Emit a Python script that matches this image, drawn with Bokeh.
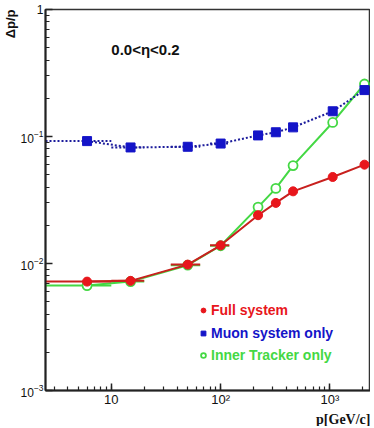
import math
from bokeh.plotting import figure
from bokeh.models import Range1d, Label, Legend, LegendItem, LogTicker, Title
from bokeh.embed import file_html
from bokeh.resources import INLINE

# momentum points (GeV/c) and horizontal bin extents
p_vals = [6, 15, 50, 100, 220, 320, 460, 1060, 2070]
p_lo = [2.5, 10, 35, 80, 200, 320, 460, 1060, 2070]
p_hi = [10, 20, 65, 120, 240, 320, 460, 1060, 2070]

full_system = [0.0072, 0.0073, 0.0098, 0.0139, 0.024, 0.030, 0.037, 0.048, 0.060]
muon_only = [0.092, 0.082, 0.083, 0.088, 0.102, 0.108, 0.118, 0.158, 0.232]
inner_only = [0.0067, 0.0072, 0.0097, 0.0138, 0.0278, 0.039, 0.059, 0.129, 0.259]

x_tick_labels = {10: "10", 100: "10²", 1000: "10³"}
y_top_label = {1: "1"}

RED = "#e8161c"
RED_LINE = "#c8201e"
BLUE = "#1414c8"
BLUE_LINE = "#1c1c9c"
GREEN = "#44d844"

p = figure(width=370, height=426, x_axis_type="log", y_axis_type="log",
           x_range=Range1d(2.5, 2350), y_range=Range1d(0.001, 1),
           output_backend="svg", toolbar_location=None,
           min_border_left=41, min_border_right=0, min_border_top=9, min_border_bottom=34)
p.xgrid.visible = False
p.ygrid.visible = False
p.outline_line_color = "#333333"
p.outline_line_width = 1.5
p.background_fill_color = "white"
p.border_fill_color = "white"

for ax in (p.xaxis[0], p.yaxis[0]):
    ax.axis_line_color = "#222222"
    ax.axis_line_width = 2
    ax.major_tick_in = 7
    ax.major_tick_out = 0
    ax.minor_tick_in = 4
    ax.minor_tick_out = 0
    ax.major_tick_line_color = "#222222"
    ax.minor_tick_line_color = "#222222"
    ax.major_tick_line_width = 1.5
    ax.minor_tick_line_width = 1.2
    ax.major_label_text_font = "Liberation Sans"
    ax.major_label_text_font_size = "13px"
    ax.major_label_text_color = "#111111"

p.yaxis[0].major_label_text_font_size = "12px"
p.xaxis[0].ticker = LogTicker(desired_num_ticks=4, num_minor_ticks=10)
p.yaxis[0].ticker = LogTicker(desired_num_ticks=4, num_minor_ticks=10)
p.xaxis[0].major_label_overrides = x_tick_labels
p.yaxis[0].major_label_overrides = y_top_label
p.xaxis[0].major_label_standoff = 1
p.yaxis[0].major_label_standoff = 2

# green: inner tracker
p.segment(x0=p_lo, y0=inner_only, x1=p_hi, y1=inner_only, line_color=GREEN, line_width=2)
p.line(p_vals, inner_only, line_color=GREEN, line_width=2)
g_r = p.scatter(p_vals, inner_only, marker="circle", size=9, line_color=GREEN,
                fill_color="white", line_width=1.8)

# red: full system
p.segment(x0=p_lo, y0=full_system, x1=p_hi, y1=full_system, line_color=RED_LINE, line_width=2)
p.line(p_vals, full_system, line_color=RED_LINE, line_width=2)
r_r = p.scatter(p_vals, full_system, marker="circle", size=9, line_color=RED, fill_color=RED)

# blue: muon system
p.segment(x0=p_lo, y0=muon_only, x1=p_hi, y1=muon_only, line_color=BLUE_LINE,
          line_width=2, line_dash="2 2")
p.line(p_vals, muon_only, line_color=BLUE_LINE, line_width=2, line_dash="2 2")
b_r = p.scatter(p_vals, muon_only, marker="square", size=9, line_color=BLUE, fill_color=BLUE)

# legends, one per colour
def add_legend(label, rend, color, y):
    lg = Legend(items=[LegendItem(label=label, renderers=[rend])],
                location=(152, y), padding=0, margin=0, spacing=0,
                glyph_width=12, glyph_height=16, label_height=16, label_standoff=2,
                label_text_font="Liberation Sans", label_text_font_style="bold",
                label_text_font_size="14px", label_text_color=color,
                border_line_color=None, background_fill_alpha=0)
    p.add_layout(lg, "center")

add_legend("Full system", r_r, RED, 72)
add_legend("Muon system only", b_r, BLUE, 49)
add_legend("Inner Tracker only", g_r, GREEN, 27)

# texts
p.add_layout(Label(x=10, y=1, y_offset=-40, text="0.0<η<0.2", text_font="Liberation Sans",
                   text_font_style="bold", text_font_size="15px", text_baseline="middle",
                   text_color="#111111"))
p.add_layout(Title(text="Δp/p", align="right", text_font="Liberation Sans",
                   text_font_style="bold", text_font_size="13px", text_color="#111111",
                   standoff=0, offset=0), "left")
p.add_layout(Title(text="p[GeV/c]", align="right", text_font="Liberation Serif",
                   text_font_style="bold", text_font_size="14px", text_color="#111111",
                   standoff=0, offset=0), "below")

open("out.html", "w").write(file_html(p, INLINE))
